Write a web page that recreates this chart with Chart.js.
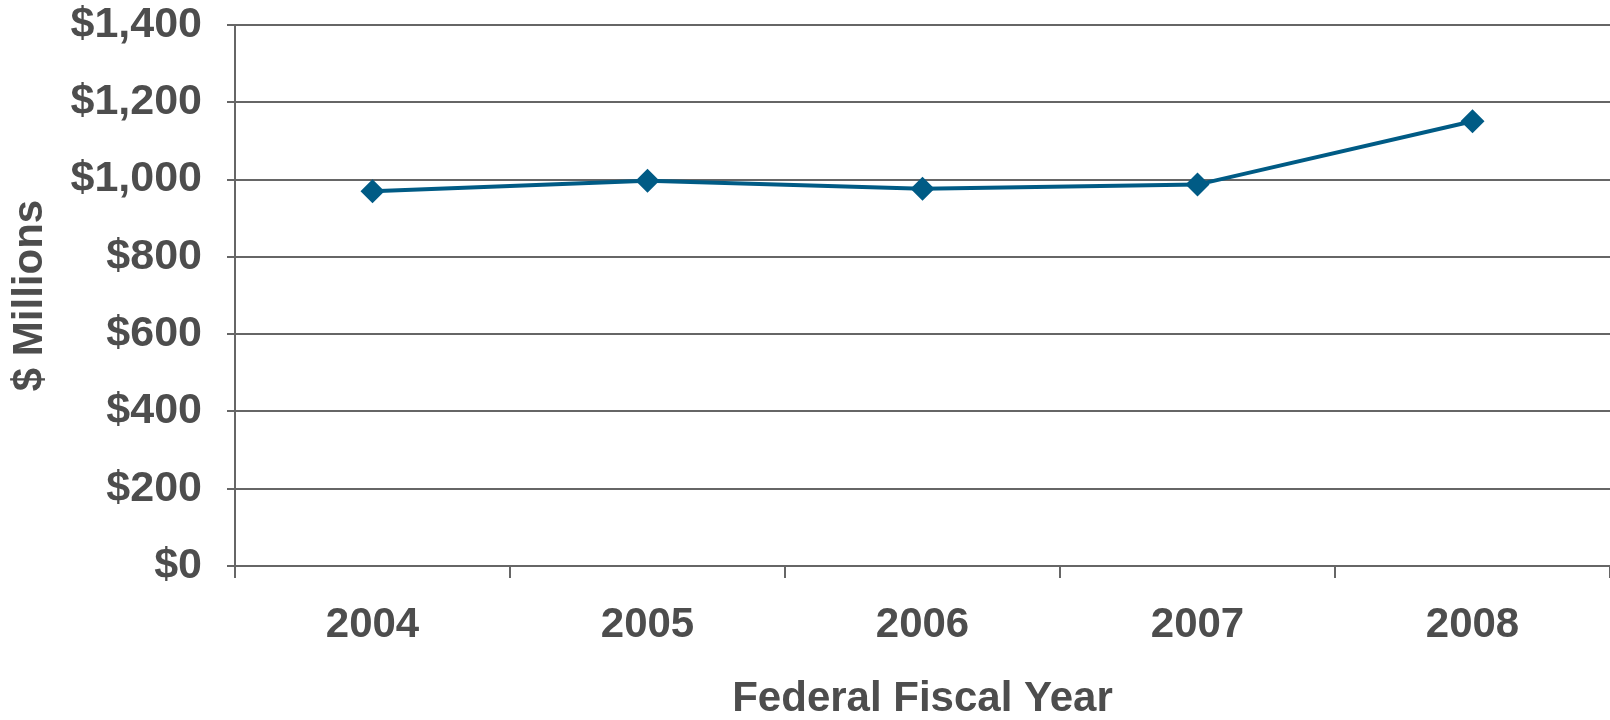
<!DOCTYPE html>
<html>
<head>
<meta charset="utf-8">
<script src="https://cdn.jsdelivr.net/npm/chart.js@4.4.1/dist/chart.umd.min.js"></script>
<style>
  html, body { margin: 0; padding: 0; background: #ffffff; }
  #wrap { width: 1610px; height: 720px; position: relative; }
</style>
</head>
<body>
<div id="wrap"><canvas id="c" width="1610" height="720"></canvas></div>
<script>
const years = ['2004', '2005', '2006', '2007', '2008'];
const spending = [970, 997, 976, 987, 1151];
const yTicks = [0, 200, 400, 600, 800, 1000, 1200, 1400];
const xTitle = 'Federal Fiscal Year';
const yTitle = '$ Millions';

const textColor = '#4d4d4d';
const gridColor = '#666666';
const lineColor = '#005b85';
const fontFamily = "'Liberation Sans', Arial, sans-serif";

new Chart(document.getElementById('c'), {
  type: 'line',
  data: {
    labels: years,
    datasets: [{
      data: spending,
      borderColor: lineColor,
      backgroundColor: lineColor,
      borderWidth: 4,
      tension: 0,
      pointStyle: 'rectRot',
      pointRadius: 12,
      pointHoverRadius: 12,
      pointBorderWidth: 0,
      pointBackgroundColor: lineColor,
      fill: false
    }]
  },
  options: {
    responsive: false,
    animation: false,
    devicePixelRatio: 1,
    layout: { autoPadding: false, padding: { top: 25, right: 0, bottom: 0, left: 0 } },
    plugins: { legend: { display: false }, tooltip: { enabled: false } },
    scales: {
      x: {
        offset: true,
        grid: {
          offset: true,
          drawOnChartArea: false,
          drawTicks: true,
          tickLength: 12,
          color: gridColor,
          lineWidth: 2
        },
        border: { display: true, color: gridColor, width: 2 },
        ticks: {
          color: textColor,
          padding: 22,
          maxRotation: 0,
          font: { family: fontFamily, size: 42, weight: 'bold', lineHeight: 1.2 }
        },
        title: {
          display: true,
          text: xTitle,
          color: textColor,
          padding: { top: 0, bottom: 0 },
          font: { family: fontFamily, size: 42, weight: 'bold', lineHeight: 1.0 }
        },
        afterFit: (s) => { s.height = 154; s.paddingLeft = 0; s.paddingRight = 0; }
      },
      y: {
        min: 0,
        max: 1400,
        afterBuildTicks: (s) => { s.ticks = yTicks.map(v => ({ value: v })); },
        grid: {
          color: gridColor,
          lineWidth: 2,
          drawTicks: true,
          tickLength: 8
        },
        border: { display: true, color: gridColor, width: 2 },
        ticks: {
          color: textColor,
          padding: 25,
          callback: (v) => '$' + Number(v).toLocaleString('en-US'),
          font: { family: fontFamily, size: 43, weight: 'bold', lineHeight: 1.16 }
        },
        title: {
          display: true,
          text: yTitle,
          color: textColor,
          padding: { top: 9, bottom: 0 },
          font: { family: fontFamily, size: 42, weight: 'bold', lineHeight: 1.0 }
        },
        afterFit: (s) => { s.width = 235; s.paddingTop = 0; s.paddingBottom = 0; }
      }
    }
  }
});
</script>
</body>
</html>
